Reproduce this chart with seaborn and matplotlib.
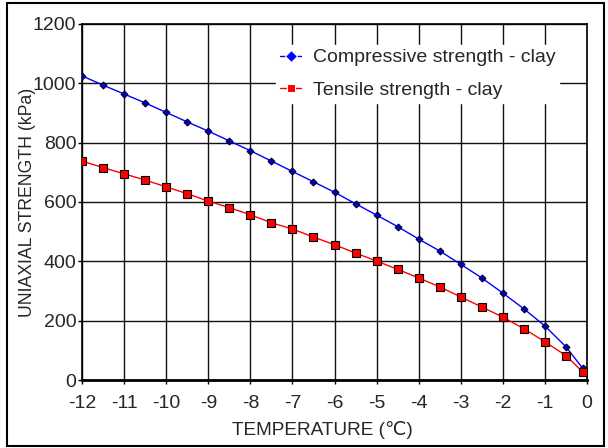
import matplotlib
matplotlib.use("Agg")
import matplotlib.pyplot as plt
import seaborn as sns
import pandas as pd
from matplotlib.patches import Rectangle

temperature = [-12, -11.5, -11, -10.5, -10, -9.5, -9, -8.5, -8, -7.5, -7, -6.5, -6,
               -5.5, -5, -4.5, -4, -3.5, -3, -2.5, -2, -1.5, -1, -0.5, -0.1]
compressive = [1025, 994, 964, 934, 902, 870, 839, 806, 773, 738, 703, 668, 633,
               594, 556, 517, 475, 435, 390, 344, 293, 240, 182, 112, 39]
tensile = [738, 716, 695, 674, 651, 628, 603, 581, 557, 530, 509, 482, 456,
           428, 401, 373, 344, 314, 280, 246, 212, 173, 129, 82, 27]
series_names = ["Compressive strength - clay", "Tensile strength - clay"]
x_ticks = list(range(-12, 1))
y_ticks = [0, 200, 400, 600, 800, 1000, 1200]

sns.set_theme(style="white")
plt.rcParams['font.family'] = ['Liberation Sans', 'DejaVu Sans']
plt.rcParams['axes.unicode_minus'] = False

fig = plt.figure(figsize=(6.08, 4.48), dpi=100)
ax = fig.add_axes([82/608, 1 - 380/448, (587-82)/608, (380-24)/448])

df = pd.DataFrame({"temperature": temperature * 2,
                   "strength": compressive + tensile,
                   "series": [series_names[0]] * len(temperature) + [series_names[1]] * len(temperature)})

sns.lineplot(data=df, x="temperature", y="strength", hue="series", style="series",
             palette=["#0000ff", "#ff0000"], markers=["D", "s"], dashes=False,
             linewidth=1, ax=ax, zorder=3)
for line, (mfc, mec, ms) in zip(ax.lines[:2], [("#0000cc", "#000033", 3.5), ("#ff0000", "#000000", 5.5)]):
    line.set_markerfacecolor(mfc)
    line.set_markeredgecolor(mec)
    line.set_markersize(ms)
    line.set_markeredgewidth(0.8)

ax.set_xlim(-12, 0)
ax.set_ylim(0, 1200)
ax.set_xticks(x_ticks)
ax.set_yticks(y_ticks)
ax.grid(True, color="#111111", linewidth=1)
ax.set_axisbelow(True)
ax.tick_params(axis="both", direction="out", length=3, width=1, color="black",
               labelsize=14, bottom=True, left=True)
ax.tick_params(axis="x", pad=8)
ax.tick_params(axis="y", pad=1)
for name, sp in ax.spines.items():
    sp.set_color("black")
    sp.set_linewidth(1.2)
ax.spines["bottom"].set_linewidth(2)
ax.set_xlabel("TEMPERATURE (\u2103)", fontsize=13.7)
ax.set_ylabel("UNIAXIAL STRENGTH (kPa)", fontsize=12.7)
ax.xaxis.set_label_coords((322 - 82) / 505, -(421 - 380) / 356)
ax.yaxis.set_label_coords((36 - 82) / 505, 1 - (202 - 24) / 356)

handles, labels = ax.get_legend_handles_labels()
leg = ax.legend(handles, labels, loc="upper left",
                bbox_to_anchor=((276-82)/505, 1 - (45-24)/356),
                frameon=True, fontsize=14, handlelength=1.1, handletextpad=0.6,
                borderpad=0.2, labelspacing=0.75, borderaxespad=0)
leg.get_frame().set_facecolor("white")
leg.get_frame().set_edgecolor("white")
leg.get_frame().set_alpha(1)
leg.get_frame().set_boxstyle("square", pad=0)

fig.patches.append(Rectangle((7/608, 1 - 446/448), (604-7)/608, (446-3)/448,
                             transform=fig.transFigure, fill=False,
                             edgecolor="black", linewidth=1.5))

fig.savefig("out.png", dpi=100)
